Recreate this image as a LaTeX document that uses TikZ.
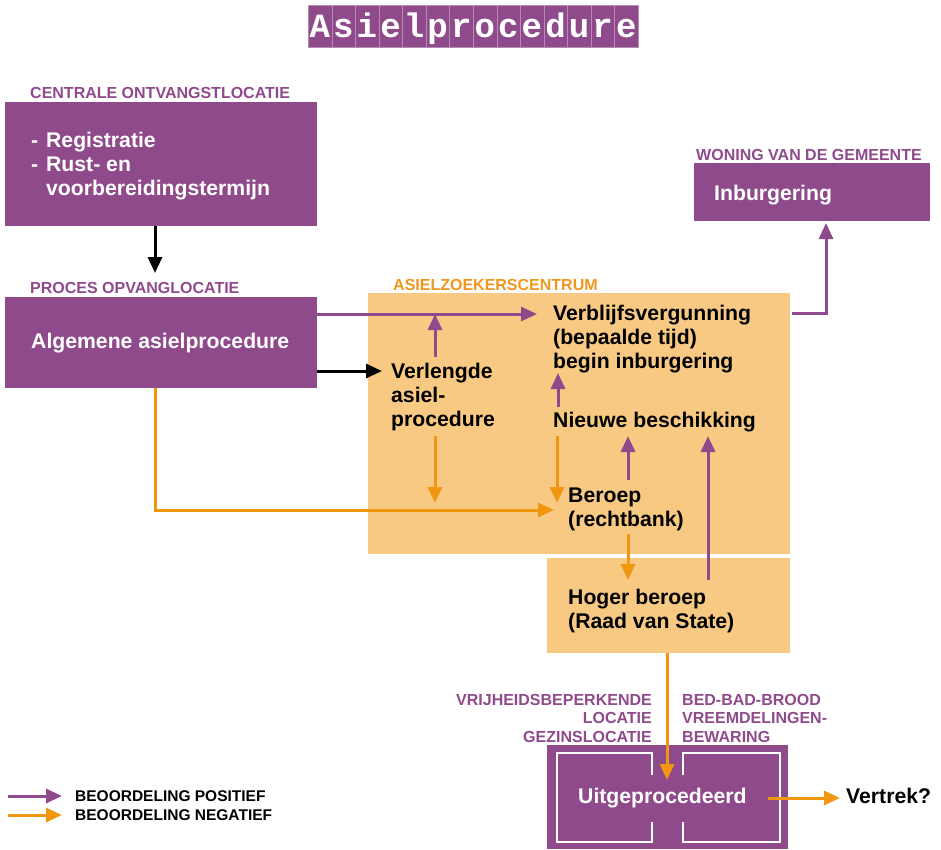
\documentclass[tikz,border=0pt]{standalone}
\usepackage{fontspec}
\setmainfont{Liberation Sans}
\newfontfamily\tilefont{Liberation Mono}
\usetikzlibrary{arrows.meta}
\definecolor{purp}{HTML}{8F4A8C}
\definecolor{peach}{HTML}{F7C982}
\definecolor{orng}{HTML}{F0960F}
\definecolor{orlab}{HTML}{F0961E}
\definecolor{tileline}{HTML}{B58AB3}
\begin{document}
\begin{tikzpicture}[x=1pt,y=-1pt,
  pbox/.style={fill=purp, draw=none, anchor=north west, inner sep=0pt},
  obox/.style={fill=peach, draw=none, anchor=north west, inner sep=0pt},
  txt/.style={anchor=base west, inner sep=0pt, align=left, font=\fontsize{21.2}{24}\selectfont\bfseries},
  wtxt/.style={txt, text=white},
  lbl/.style={anchor=base west, inner sep=0pt, align=left, font=\fontsize{16}{18.5}\selectfont\bfseries, text=purp},
  legtxt/.style={anchor=base west, inner sep=0pt, font=\fontsize{15.5}{18}\selectfont\bfseries},
  tip/.style={-{Triangle[length=16pt,width=14pt]}},
  parr/.style={draw=purp, line width=3pt, tip},
  oarr/.style={draw=orng, line width=3pt, tip},
  barr/.style={draw=black, line width=3pt, tip},
  inner/.style={draw=white, line width=2.2pt}
]
\useasboundingbox (0,0) rectangle (941,849);

% title tiles
\foreach \l [count=\i] in {A,s,i,e,l,p,r,o,c,e,d,u,r,e}{
  \node[fill=purp, draw=tileline, line width=0.6pt, minimum width=23.57pt, minimum height=42pt, inner sep=0pt, anchor=north west] (tile\i) at ({308+23.57*(\i-1)},5) {};
  \node[anchor=base, inner sep=0pt, text=white, font=\tilefont\bfseries\fontsize{34}{34}\selectfont] (let\i) at ({308+23.57*(\i-0.5)},37) {\l};
}

% boxes
\node[pbox, minimum width=312pt, minimum height=124pt] (cent) at (5,102) {};
\node[pbox, minimum width=312pt, minimum height=91pt] (proc) at (5,297) {};
\node[pbox, minimum width=236pt, minimum height=58pt] (inb) at (694,163) {};
\node[obox, minimum width=422pt, minimum height=261pt] (azc) at (368,293) {};
\node[obox, minimum width=243pt, minimum height=95pt] (hoger) at (547,558) {};
\node[pbox, minimum width=241pt, minimum height=104pt] (uit) at (547,745) {};

% inner outlines of Uitgeprocedeerd
\draw[inner] (652,775) -- (652,753) -- (557,753) -- (557,842) -- (652,842) -- (652,822);
\draw[inner] (683,775) -- (683,753) -- (780,753) -- (780,842) -- (683,842) -- (683,822);

% labels (multi-line nodes: base = last line)
\node[lbl] (lab1) at (30,98) {CENTRALE ONTVANGSTLOCATIE};
\node[lbl] (lab2) at (30,293) {PROCES OPVANGLOCATIE};
\node[lbl, text=orlab] (lab3) at (393,290) {ASIELZOEKERSCENTRUM};
\node[lbl] (lab4) at (696,160) {WONING VAN DE GEMEENTE};
\node[lbl, anchor=base east, align=right] (lab5) at (652,742) {VRIJHEIDSBEPERKENDE\\LOCATIE\\GEZINSLOCATIE};
\node[lbl] (lab6) at (682,742) {BED-BAD-BROOD\\VREEMDELINGEN-\\BEWARING};

% texts
\node[wtxt] (t1) at (31,195) {\makebox[15pt][l]{-}Registratie\\\makebox[15pt][l]{-}Rust- en\\\hspace*{15pt}voorbereidingstermijn};
\node[wtxt] (t2) at (31,348) {Algemene asielprocedure};
\node[wtxt] (inbt) at (714,200) {Inburgering};
\node[txt] (verl) at (391,426) {Verlengde\\asiel-\\procedure};
\node[txt] (verb) at (553,368) {Verblijfsvergunning\\(bepaalde tijd)\\begin inburgering};
\node[txt] (nieuw) at (553,427) {Nieuwe beschikking};
\node[txt] (ber) at (568,526) {Beroep\\(rechtbank)};
\node[txt] (hog) at (568,628) {Hoger beroep\\(Raad van State)};
\node[wtxt] (uitt) at (578,803) {Uitgeprocedeerd};
\node[txt] (vert) at (846,803) {Vertrek?};

% legend
\node[legtxt] (leg1) at (75,801) {BEOORDELING POSITIEF};
\node[legtxt] (leg2) at (75,820) {BEOORDELING NEGATIEF};
\coordinate (lp0) at (8,796);
\coordinate (lp1) at (62,796);
\coordinate (lo0) at (8,815);
\coordinate (lo1) at (62,815);
\draw[parr] (lp0) -- (lp1);
\draw[oarr] (lo0) -- (lo1);

% connector coordinates
\coordinate (c1) at (155,273);
\coordinate (pv) at (537,314);
\coordinate (bv) at (382,371);
\coordinate (ob) at (554,510);
\coordinate (vup) at (435,357);
\coordinate (vdn0) at (435,436);
\coordinate (vdn1) at (435,503);
\coordinate (nu0) at (558,407);
\coordinate (nu1) at (558,373);
\coordinate (bd0) at (557,436);
\coordinate (bd1) at (557,503);
\coordinate (bu0) at (628,480);
\coordinate (bu1) at (628,436);
\coordinate (hd0) at (628,534);
\coordinate (hd1) at (628,580);
\coordinate (hu0) at (708,580);
\coordinate (hu1) at (708,436);
\coordinate (ud1) at (667,780);
\coordinate (ve0) at (768,798);
\coordinate (ve1) at (840,798);
\coordinate (ib0) at (792,313);
\coordinate (ib1) at (826,223);

% connectors
\draw[barr] (c1 |- cent.south) -- (c1);
\draw[parr] (pv -| proc.east) -- (pv);
\draw[barr] (bv -| proc.east) -- (bv);
\draw[oarr] (c1 |- proc.south) -- (c1 |- ob) -- (ob);
\draw[parr] (vup) -- (vup |- pv);
\draw[oarr] (vdn0) -- (vdn1);
\draw[parr] (nu0) -- (nu1);
\draw[oarr] (bd0) -- (bd1);
\draw[parr] (bu0) -- (bu1);
\draw[oarr] (hd0) -- (hd1);
\draw[parr] (hu0) -- (hu1);
\draw[oarr] (ud1 |- hoger.south) -- (ud1);
\draw[oarr] (ve0) -- (ve1);
\draw[parr] (ib0) -- (ib1 |- ib0) -- (ib1);
\end{tikzpicture}
\end{document}
